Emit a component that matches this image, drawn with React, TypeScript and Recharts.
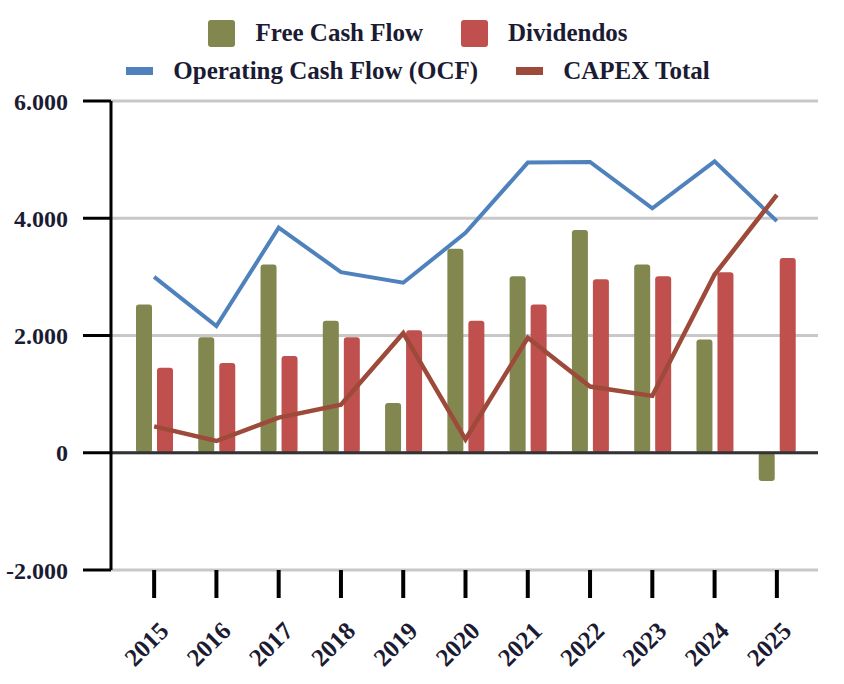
import {
  ComposedChart,
  Bar,
  Line,
  XAxis,
  YAxis,
  CartesianGrid,
  Legend,
  ReferenceLine,
} from 'recharts';

const years = ['2015', '2016', '2017', '2018', '2019', '2020', '2021', '2022', '2023', '2024', '2025'];
const freeCashFlow = [2530, 1970, 3210, 2250, 850, 3480, 3010, 3800, 3210, 1930, -480];
const dividendos = [1450, 1530, 1650, 1970, 2090, 2250, 2530, 2960, 3010, 3080, 3320];
const operatingCashFlow = [3000, 2160, 3840, 3080, 2900, 3750, 4950, 4960, 4170, 4970, 3950];
const capexTotal = [450, 200, 600, 820, 2040, 230, 1960, 1130, 970, 3040, 4400];
const yTicks = [-2000, 0, 2000, 4000, 6000];

const data = years.map((year, i) => ({
  year,
  fcf: freeCashFlow[i],
  div: dividendos[i],
  ocf: operatingCashFlow[i],
  capex: capexTotal[i],
}));

const FONT = "'Liberation Serif', 'Times New Roman', Tinos, 'Noto Serif', 'DejaVu Serif', serif";
const TEXT = '#1b1b33';

const COLORS = {
  fcf: '#82874f',
  div: '#c0504d',
  ocf: '#4f81bd',
  capex: '#9d4a3b',
};

// legend rows as in the original: bars on top, lines below
const legendRows = [
  [
    { key: 'fcf', label: 'Free Cash Flow', kind: 'bar' },
    { key: 'div', label: 'Dividendos', kind: 'bar' },
  ],
  [
    { key: 'ocf', label: 'Operating Cash Flow (OCF)', kind: 'line' },
    { key: 'capex', label: 'CAPEX Total', kind: 'line' },
  ],
];

const fmt = (v: number) => v.toLocaleString('de-DE');

function renderLegend() {
  return (
    <div style={{ fontFamily: FONT, fontWeight: 'bold', fontSize: 25, color: TEXT }}>
      {legendRows.map((row, r) => (
        <div
          key={r}
          style={{ display: 'flex', justifyContent: 'center', alignItems: 'center', height: 38 }}
        >
          {row.map((item) => (
            <div key={item.key} style={{ display: 'flex', alignItems: 'center', margin: '0 19px' }}>
              <span
                style={{
                  display: 'inline-block',
                  width: 27,
                  height: item.kind === 'bar' ? 27 : 8,
                  borderRadius: item.kind === 'bar' ? 3 : 0,
                  background: COLORS[item.key as keyof typeof COLORS],
                  marginRight: 20,
                }}
              />
              <span>{item.label}</span>
            </div>
          ))}
        </div>
      ))}
    </div>
  );
}

function YearTick(props: any) {
  const { x, y, payload } = props;
  return (
    <g transform={`translate(${x - 8},${y + 46})`}>
      <text
        textAnchor="middle"
        dy="0.35em"
        transform="rotate(-45)"
        fill={TEXT}
        style={{ fontFamily: FONT, fontWeight: 'bold', fontSize: 25 }}
      >
        {payload.value}
      </text>
    </g>
  );
}

export default function App() {
  return (
    <div style={{ position: 'absolute', left: 0, top: 0, background: '#fff' }}>
      <ComposedChart
        width={844}
        height={684}
        data={data}
        margin={{ top: 101, right: 26, bottom: 84, left: 0 }}
        barSize={16}
        barGap={5}
      >
        <CartesianGrid vertical={false} stroke="#c8c8c8" strokeWidth={3} yAxisId="left" />
        <XAxis
          dataKey="year"
          height={30}
          padding={{ left: 12, right: 10 }}
          axisLine={false}
          tickSize={28}
          tickMargin={0}
          tickLine={{ stroke: '#000', strokeWidth: 4 }}
          tick={<YearTick />}
          interval={0}
        />
        <YAxis
          yAxisId="left"
          width={111}
          domain={[-2000, 6000]}
          ticks={yTicks}
          tickFormatter={fmt}
          axisLine={{ stroke: '#000', strokeWidth: 3 }}
          tickLine={{ stroke: '#000', strokeWidth: 3 }}
          tickSize={28}
          tickMargin={15}
          tick={{ fill: TEXT, fontFamily: FONT, fontWeight: 'bold', fontSize: 24 }}
        />
        <YAxis
          yAxisId="right"
          orientation="right"
          width={0}
          domain={[-2000, 6000]}
          tick={false}
          tickLine={false}
          axisLine={{ stroke: '#000', strokeWidth: 3 }}
        />
        <Legend
          verticalAlign="middle"
          align="center"
          layout="horizontal"
          content={renderLegend}
          wrapperStyle={{ top: 14, left: 0, width: 836 }}
        />
        <Bar
          yAxisId="left"
          dataKey="fcf"
          name="Free Cash Flow"
          fill={COLORS.fcf}
          radius={3}
          isAnimationActive={false}
        />
        <Bar
          yAxisId="left"
          dataKey="div"
          name="Dividendos"
          fill={COLORS.div}
          radius={3}
          isAnimationActive={false}
        />
        <ReferenceLine yAxisId="left" y={0} stroke="#333" strokeWidth={3} />
        <Line
          yAxisId="left"
          type="linear"
          dataKey="ocf"
          name="Operating Cash Flow (OCF)"
          stroke={COLORS.ocf}
          strokeWidth={4}
          dot={false}
          isAnimationActive={false}
        />
        <Line
          yAxisId="left"
          type="linear"
          dataKey="capex"
          name="CAPEX Total"
          stroke={COLORS.capex}
          strokeWidth={4.5}
          dot={false}
          isAnimationActive={false}
        />
      </ComposedChart>
    </div>
  );
}
